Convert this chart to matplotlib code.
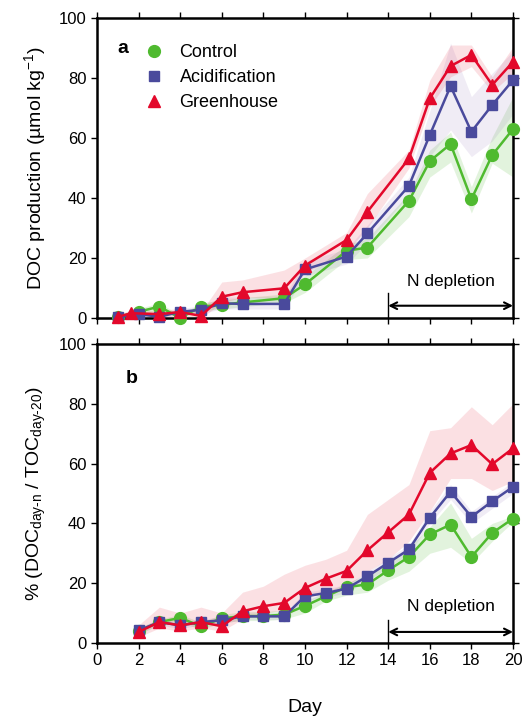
import numpy as np
import matplotlib
matplotlib.use("Agg")
import matplotlib.pyplot as plt

plt.rcParams['font.family'] = ['Liberation Sans', 'DejaVu Sans']
plt.rcParams['mathtext.fontset'] = 'custom'
plt.rcParams['mathtext.rm'] = 'Liberation Sans'
plt.rcParams['mathtext.it'] = 'Liberation Sans:italic'

# ---------------- Panel a data ----------------
a_days_ctrl = [1, 2, 3, 4, 5, 6, 7, 9, 10, 12, 13, 15, 16, 17, 18, 19, 20]
a_ctrl = [0.3, 2.1, 3.8, 0.0, 3.8, 4.4, 5.2, 6.6, 11.2, 22.4, 23.5, 39.1, 52.3, 58.0, 39.6, 54.3, 63.0]
a_ctrl_lo = [0, 1.0, 2.5, 0, 2.5, 3.0, 3.8, 5.0, 8.5, 19.5, 20.0, 33.8, 47.0, 52.0, 35.0, 51.6, 47.0]
a_ctrl_hi = [1, 3.2, 5.0, 1, 5.0, 6.0, 6.8, 8.0, 14.0, 24.5, 26.5, 41.6, 56.0, 62.0, 43.8, 60.4, 73.8]

a_days_acid = [1, 2, 3, 4, 5, 6, 7, 9, 10, 12, 13, 15, 16, 17, 18, 19, 20]
a_acid = [0.2, 1.3, 0.4, 2.1, 2.7, 4.9, 4.7, 4.7, 16.2, 20.5, 28.2, 44.1, 61.0, 77.3, 62.1, 71.0, 79.3]
a_acid_lo = [0, 0.3, 0, 1.0, 1.5, 3.0, 3.0, 3.0, 14.0, 18.0, 25.0, 41.0, 53.8, 62.7, 53.8, 59.0, 68.0]
a_acid_hi = [1, 2.5, 1.5, 3.2, 4.0, 7.0, 7.0, 7.0, 19.0, 23.0, 31.0, 47.0, 69.0, 91.6, 73.8, 81.6, 89.0]

a_days_gh = [1, 1.65, 3, 4, 5, 6, 7, 9, 10, 12, 13, 15, 16, 17, 18, 19, 20]
a_gh = [0.4, 1.6, 1.3, 2.0, 0.7, 7.1, 8.6, 9.9, 17.5, 26.0, 35.4, 53.2, 73.2, 84.0, 87.7, 77.7, 85.4]
a_gh_lo = [0, 0.5, 0.3, 0.8, 0, 5.0, 7.0, 6.5, 15.0, 22.0, 30.0, 50.0, 70.4, 80.4, 83.8, 75.4, 81.6]
a_gh_hi = [1, 2.8, 2.5, 3.2, 2.0, 12.0, 12.7, 16.0, 20.0, 28.5, 41.5, 56.0, 79.3, 91.0, 91.0, 80.4, 90.4]

# ---------------- Panel b data ----------------
b_days = list(range(2, 21))
b_ctrl = [4.0, 7.0, 8.4, 5.6, 8.2, 9.0, 9.0, 9.5, 12.4, 15.6, 18.7, 19.6, 24.3, 28.8, 36.3, 39.6, 28.8, 36.8, 41.6]
b_ctrl_lo = [3.0, 6.0, 7.0, 4.5, 6.8, 7.5, 7.5, 8.0, 10.0, 14.0, 16.0, 17.0, 21.0, 24.0, 30.0, 32.0, 26.7, 34.0, 40.5]
b_ctrl_hi = [5.0, 8.0, 9.5, 7.0, 9.5, 10.5, 10.5, 11.0, 14.0, 17.0, 20.0, 23.0, 27.0, 32.0, 38.8, 46.8, 35.0, 40.0, 42.5]

b_acid = [4.2, 7.0, 5.9, 7.0, 7.6, 8.9, 8.9, 8.9, 15.6, 16.7, 18.2, 22.3, 26.8, 31.3, 41.9, 50.6, 42.2, 47.4, 52.2]
b_acid_lo = [3.2, 6.0, 4.8, 6.0, 6.5, 7.8, 7.8, 7.8, 14.2, 15.3, 16.8, 20.8, 25.2, 29.8, 40.0, 48.0, 40.0, 45.0, 50.0]
b_acid_hi = [5.2, 8.0, 7.0, 8.0, 8.7, 10.0, 10.0, 10.0, 17.0, 18.1, 19.6, 23.8, 28.4, 32.8, 44.0, 53.0, 44.0, 49.0, 54.0]

b_gh = [3.7, 7.0, 5.9, 7.0, 5.6, 10.6, 12.3, 13.4, 18.4, 21.5, 24.1, 31.0, 37.0, 43.0, 56.9, 63.4, 66.2, 59.8, 65.1]
b_gh_lo = [2.0, 5.0, 4.0, 5.0, 4.0, 8.0, 10.0, 11.0, 15.0, 17.0, 19.0, 24.0, 28.0, 34.0, 44.0, 55.0, 55.0, 51.0, 54.0]
b_gh_hi = [6.0, 12.0, 10.0, 12.0, 10.0, 17.0, 19.0, 23.0, 26.0, 28.0, 31.0, 43.0, 48.0, 53.0, 71.0, 72.0, 79.0, 73.0, 80.0]

xticks = list(range(0, 21, 2))
yticks = list(range(0, 101, 20))

C_GREEN = '#4fba2f'
C_BLUE = '#4a4a9c'
C_RED = '#e3082b'
BAND_GREEN = '#4fba2f'
BAND_BLUE = '#8a64b4'
BAND_RED = '#e8283f'

fig = plt.figure(figsize=(5.24, 7.19), dpi=100)
ax1 = fig.add_axes([0.185, 0.5577, 0.794, 0.4172])
ax2 = fig.add_axes([0.185, 0.1057, 0.794, 0.4159])


def style(ax):
    ax.set_xlim(0, 20)
    ax.set_ylim(0, 100)
    ax.set_xticks(xticks)
    ax.set_yticks(yticks)
    ax.tick_params(direction='out', length=4, width=1.0, top=True, right=True,
                   labelsize=12)
    for s in ax.spines.values():
        s.set_linewidth(1.8)


def series(ax, x, y, lo, hi, color, band, marker, ms, label, z, alpha):
    ax.fill_between(x, lo, hi, color=band, alpha=alpha, lw=0, zorder=1)
    ax.plot(x, y, color=color, marker=marker, ms=ms, lw=1.8,
            label=label, zorder=z, clip_on=False)


series(ax1, a_days_ctrl, a_ctrl, a_ctrl_lo, a_ctrl_hi, C_GREEN, BAND_GREEN, 'o', 8.5, 'Control', 3, 0.16)
series(ax1, a_days_acid, a_acid, a_acid_lo, a_acid_hi, C_BLUE, BAND_BLUE, 's', 7.5, 'Acidification', 4, 0.12)
series(ax1, a_days_gh, a_gh, a_gh_lo, a_gh_hi, C_RED, BAND_RED, '^', 8.5, 'Greenhouse', 5, 0.14)

series(ax2, b_days, b_ctrl, b_ctrl_lo, b_ctrl_hi, C_GREEN, BAND_GREEN, 'o', 8.5, 'Control', 3, 0.16)
series(ax2, b_days, b_acid, b_acid_lo, b_acid_hi, C_BLUE, BAND_BLUE, 's', 7.5, 'Acidification', 4, 0.12)
series(ax2, b_days, b_gh, b_gh_lo, b_gh_hi, C_RED, BAND_RED, '^', 8.5, 'Greenhouse', 5, 0.14)

style(ax1)
style(ax2)
ax1.tick_params(labelbottom=False)

ax1.set_ylabel('DOC production (µmol kg$^{-1}$)', fontsize=14, labelpad=8)
ax2.set_ylabel(r'% (DOC$_{\mathrm{day\text{-}n}}$ / TOC$_{\mathrm{day\text{-}20}}$)', fontsize=14, labelpad=8)
ax2.set_xlabel('Day', fontsize=14, labelpad=22)

leg = ax1.legend(loc='upper left', bbox_to_anchor=(0.09, 0.95), frameon=False,
                 fontsize=13, handlelength=1.0, handletextpad=0.9,
                 labelspacing=0.45, borderaxespad=0.2)
for h in leg.legend_handles:
    h.set_linestyle('None')

ax1.text(0.05, 0.9, 'a', transform=ax1.transAxes, fontsize=14, fontweight='bold',
         ha='left', va='center')
ax2.text(0.07, 0.885, 'b', transform=ax2.transAxes, fontsize=14, fontweight='bold',
         ha='left', va='center')

for ax, ya, yt, yl in [(ax1, 4.1, 9.8, 8.3), (ax2, 3.7, 9.7, 7.6)]:
    ax.annotate('', xy=(20, ya), xytext=(14, ya),
                arrowprops=dict(arrowstyle='<->', lw=1.5, color='black',
                                shrinkA=0, shrinkB=0, mutation_scale=12))
    ax.plot([14, 14], [0, yl], color='black', lw=1.0, zorder=6)
    ax.text(17.0, yt, 'N depletion', fontsize=12.5, ha='center', va='bottom')

fig.savefig('out.png', dpi=100)
